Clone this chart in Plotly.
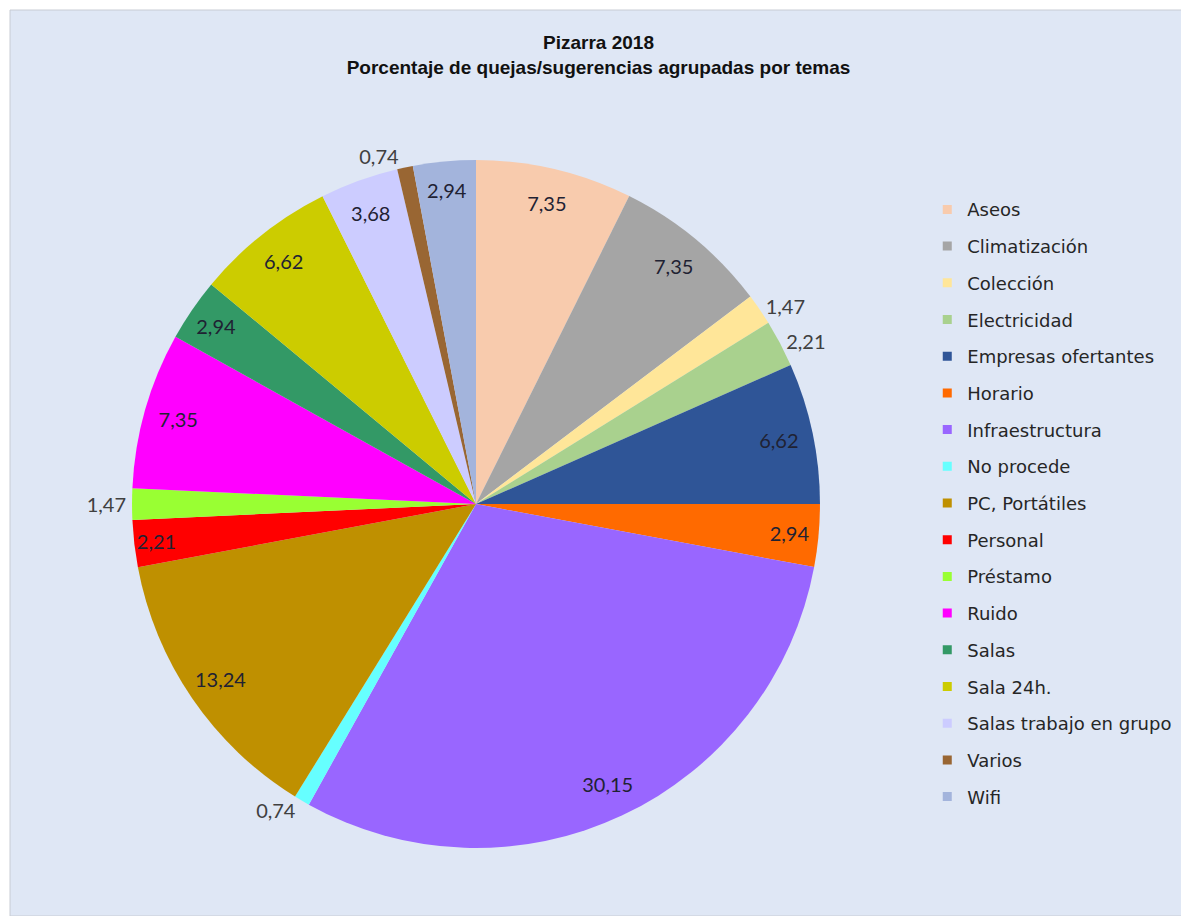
import plotly.graph_objects as go

# datos (porcentaje de quejas por tema)
temas = ["Aseos", "Climatización", "Colección", "Electricidad", "Empresas ofertantes",
         "Horario", "Infraestructura", "No procede", "PC, Portátiles", "Personal",
         "Préstamo", "Ruido", "Salas", "Sala 24h.", "Salas trabajo en grupo", "Varios", "Wifi"]
valores = [7.35, 7.35, 1.47, 2.21, 6.62, 2.94, 30.15, 0.74, 13.24, 2.21,
           1.47, 7.35, 2.94, 6.62, 3.68, 0.74, 2.94]
colores = ["#F8CBAD", "#A5A5A5", "#FFE699", "#A9D18E", "#2F5597", "#FF6A00", "#9966FF",
           "#66FFFF", "#BF9000", "#FF0000", "#99FF33", "#FF00FF", "#339966", "#CCCC00",
           "#CCCCFF", "#996633", "#A3B4DC"]
posicion = ["inside", "inside", "outside", "outside", "inside", "inside", "inside",
            "outside", "inside", "inside", "outside", "inside", "inside", "inside",
            "inside", "outside", "inside"]

textos = [f"{v:.2f}".replace(".", ",") for v in valores]
color_txt = ["#1F2233" if p == "inside" else "#404040" for p in posicion]

dominio = dict(x=[0.1035, 0.687], y=[0.075, 0.8344])

fig = go.Figure()

# tarta principal
fig.add_trace(go.Pie(
    labels=temas, values=valores, sort=False, direction="clockwise", rotation=0,
    marker=dict(colors=colores, line=dict(width=0)),
    textinfo="none", showlegend=False, domain=dominio, hoverinfo="label+value",
))

# anillo transparente sólo para colocar las etiquetas cerca del borde
fig.add_trace(go.Pie(
    labels=temas, values=valores, sort=False, direction="clockwise", rotation=0,
    hole=0.8, marker=dict(colors=["rgba(0,0,0,0)"] * len(temas), line=dict(width=0)),
    text=textos, texttemplate="%{text}", textposition=posicion,
    insidetextorientation="horizontal",
    textfont=dict(family="Lato", size=20, color=color_txt),
    showlegend=False, domain=dominio, hoverinfo="skip",
))

# leyenda con trazas vacías para poder separar las entradas
for t, c in zip(temas, colores):
    fig.add_trace(go.Scatter(
        x=[None], y=[None], mode="markers", name=t, legendgroup=t,
        marker=dict(symbol="square", size=9, color=c),
    ))

# la página ya deja 8 px de margen, por eso el tamaño es algo menor
fig.update_layout(
    width=1181, height=908,
    margin=dict(l=2, r=0, t=2, b=0),
    paper_bgcolor="white", plot_bgcolor="rgba(0,0,0,0)",
    xaxis=dict(visible=False), yaxis=dict(visible=False),
    title=dict(
        text="<b>Pizarra 2018<br>Porcentaje de quejas/sugerencias agrupadas por temas</b>",
        x=0.5, xanchor="center", y=0.955, yanchor="middle",
        font=dict(family="Liberation Sans", size=19, color="#111111"),
    ),
    legend=dict(
        x=0.778, xanchor="left", y=0.80, yanchor="top",
        font=dict(family="DejaVu Sans", size=18, color="#262626"),
        tracegroupgap=10.3, bgcolor="rgba(0,0,0,0)",
    ),
    uniformtext=dict(minsize=20, mode="show"),
    shapes=[dict(type="rect", xref="paper", yref="paper", x0=0, y0=0, x1=1, y1=1,
                 fillcolor="#DFE7F5", line=dict(color="#C8CCD4", width=1), layer="below")],
)

fig.write_html("out.html")
